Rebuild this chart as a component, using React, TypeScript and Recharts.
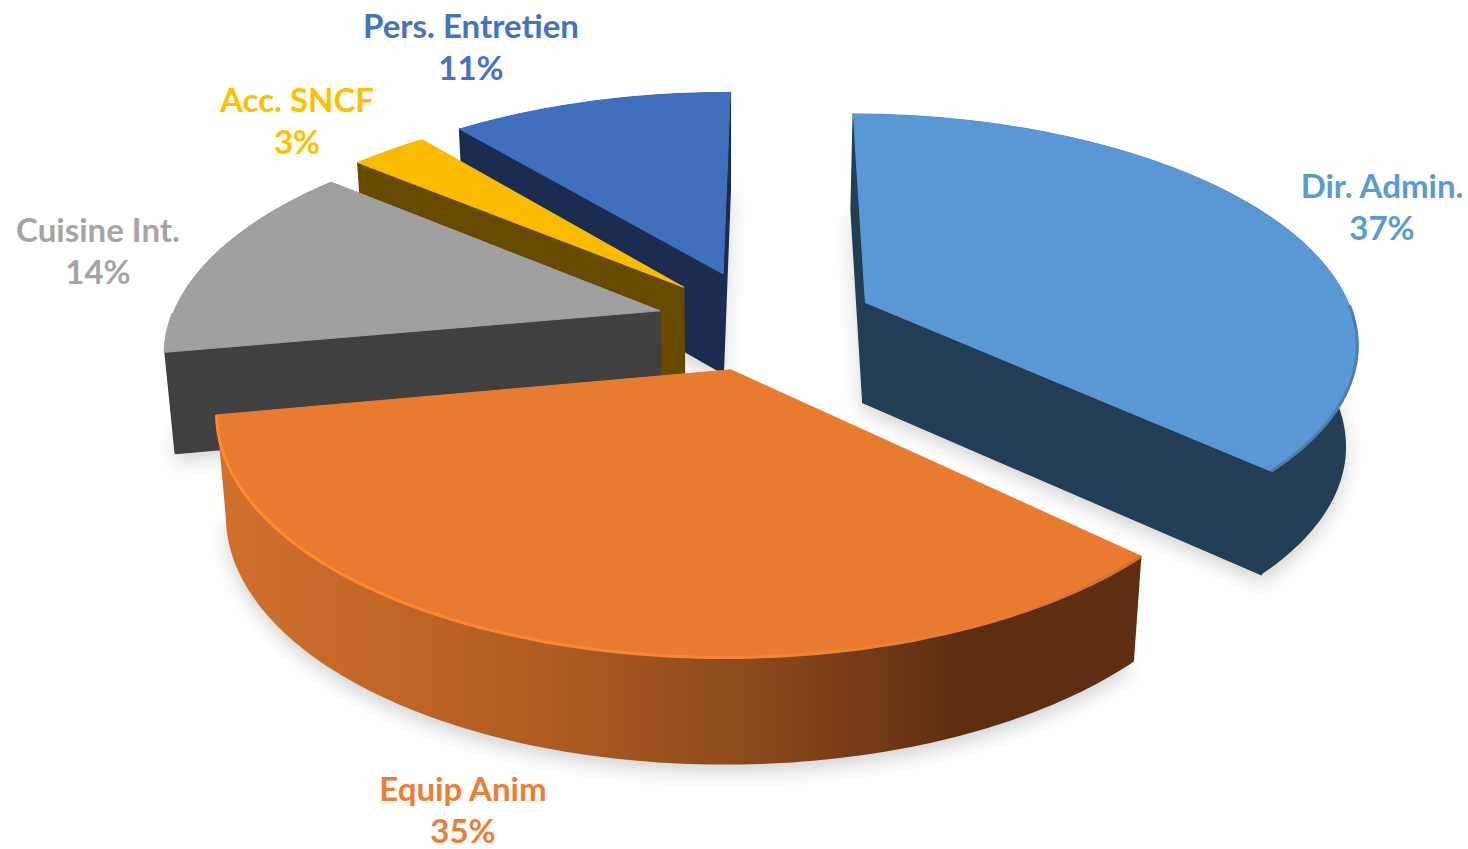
import React from 'react';
import { PieChart, Pie } from 'recharts';

// listed counter-clockwise from the top so the front slices paint last
const categories = ['Pers. Entretien', 'Acc. SNCF', 'Cuisine Int.', 'Equip Anim', 'Dir. Admin.'];
const shares = [11, 3, 14, 35, 37];
const explode = [0.24, 0.23, 0.215, 0.21, 0.235];

const topColors = ['#406FBE', '#FBBC00', '#A0A0A0', '#E97B30', '#5997D5'];
const faceColors = ['#1A2C50', '#654A00', '#404040', '#5F2E11', '#233D55'];
const wallColors = ['#1A2C50', '#654A00', '#404040', 'url(#orangeWall)', '#243E55'];
const rimColors = ['#406FBE', '#FBBC00', '#A0A0A0', 'url(#orangeRim)', '#4A7FAC'];
const labelColors = ['#4472C4', '#FFC000', '#A5A5A5', '#ED7D31', '#5B9BD5'];
const percentLabels = ['11%', '3%', '14%', '35%', '37%'];
const labelAnchors = [
  [471, 38],
  [297, 112],
  [98, 242],
  [463, 801],
  [1382, 198],
];

const data = categories.map((name, i) => ({ name, value: shares[i] }));

const CX = 761;
const CY = 323;
const RADIUS = 490;
const TILT = 0.459;
const PERSPECTIVE = 0.16;
const VANISH_X = 730;
const SHRINK = 0.018;

type Pt = [number, number];

const project = (u: number, v: number, cx: number, cy: number, r: number): Pt => {
  const s = 1 / (1 - PERSPECTIVE * v);
  return [cx + r * u * s, cy + r * TILT * v * s];
};
// wall height grows a little towards the viewer
const lower = (p: Pt): Pt => [p[0] + (VANISH_X - p[0]) * SHRINK, p[1] + 100 + (p[1] - 300) * 0.02];
const toLine = (pts: Pt[]) =>
  'M' + pts.map((p) => `${p[0].toFixed(1)},${p[1].toFixed(1)}`).join('L');
const toPath = (pts: Pt[]) => toLine(pts) + 'Z';
const cross = (a: Pt, b: Pt) => a[0] * b[1] - a[1] * b[0];
const sub = (a: Pt, b: Pt): Pt => [a[0] - b[0], a[1] - b[1]];

const sliceGeometry = (props: any) => {
  const { cx, cy, outerRadius, startAngle, endAngle } = props;
  const idx = categories.indexOf(props.payload?.name ?? props.name);
  const mid = ((startAngle + endAngle) / 2) * (Math.PI / 180);
  const ou = explode[idx] * Math.cos(mid);
  const ov = -explode[idx] * Math.sin(mid);
  const apex = project(ou, ov, cx, cy, outerRadius);
  const rim: Pt[] = [];
  const front: Pt[] = [];
  const steps = Math.max(2, Math.ceil(Math.abs(endAngle - startAngle)));
  for (let i = 0; i <= steps; i++) {
    const a = ((startAngle + ((endAngle - startAngle) * i) / steps) * Math.PI) / 180;
    const p = project(ou + Math.cos(a), ov - Math.sin(a), cx, cy, outerRadius);
    rim.push(p);
    if (Math.sin(a) < 0) front.push(p);
  }
  return { idx, apex, rim, front };
};

const Slice3D = (props: any) => {
  const { idx, apex, rim, front } = sliceGeometry(props);
  const middle = rim[Math.floor(rim.length / 2)];
  const faces = [rim[0], rim[rim.length - 1]].filter((p) => {
    const edge = sub(p, apex);
    return cross(edge, sub(lower(p), p)) * cross(edge, sub(middle, apex)) < 0;
  });
  const wall = [...rim, ...rim.map(lower).reverse()];
  return (
    <g strokeLinejoin="round">
      {faces.map((p, i) => (
        <path
          key={i}
          d={toPath([apex, p, lower(p), lower(apex)])}
          fill={faceColors[idx]}
          stroke={faceColors[idx]}
          strokeWidth={1.5}
        />
      ))}
      <path d={toPath(wall)} fill={wallColors[idx]} />
      <path d={toPath([apex, ...rim])} fill={topColors[idx]} stroke={topColors[idx]} strokeWidth={1} />
      {front.length > 1 && (
        <path d={toLine(front)} fill="none" stroke={rimColors[idx]} strokeWidth={3} />
      )}
    </g>
  );
};

const SliceShadow = (props: any) => {
  const { apex, rim } = sliceGeometry(props);
  const pts = [apex, ...rim].map(lower).map((p): Pt => [p[0], p[1] + 8]);
  return <path d={toPath(pts)} fill="#000" fillOpacity={0.17} filter="url(#softShadow)" />;
};

const renderLabel = (props: any) => {
  const idx = categories.indexOf(props.payload?.name ?? props.name);
  const [x, y] = labelAnchors[idx];
  return (
    <text
      key={categories[idx]}
      textAnchor="middle"
      fill={labelColors[idx]}
      fontFamily="Lato, sans-serif"
      fontWeight={700}
      fontSize={33}
    >
      <tspan x={x} y={y}>
        {categories[idx]}
      </tspan>
      <tspan x={x} y={y + 41.5}>
        {percentLabels[idx]}
      </tspan>
    </text>
  );
};

export default function App() {
  return (
    <div style={{ position: 'absolute', left: 0, top: 0, width: 1468, height: 849 }}>
      <PieChart width={1468} height={849} margin={{ top: 0, right: 0, bottom: 0, left: 0 }}>
        <defs>
          <linearGradient id="orangeWall" gradientUnits="userSpaceOnUse" x1={225} y1={0} x2={1140} y2={0}>
            <stop offset="0%" stopColor="#D0702C" />
            <stop offset="35%" stopColor="#B05C22" />
            <stop offset="60%" stopColor="#87471A" />
            <stop offset="80%" stopColor="#5F2E11" />
            <stop offset="100%" stopColor="#5F2E11" />
          </linearGradient>
          <linearGradient id="orangeRim" gradientUnits="userSpaceOnUse" x1={225} y1={0} x2={1140} y2={0}>
            <stop offset="0%" stopColor="#FF8A30" />
            <stop offset="55%" stopColor="#F98434" />
            <stop offset="85%" stopColor="#E97B30" />
            <stop offset="100%" stopColor="#D07030" />
          </linearGradient>
          <filter id="softShadow" x="-10%" y="-10%" width="120%" height="120%">
            <feGaussianBlur stdDeviation="9" />
          </filter>
        </defs>
        <Pie
          data={data}
          dataKey="value"
          cx={CX}
          cy={CY}
          outerRadius={RADIUS}
          startAngle={89.7}
          endAngle={449.7}
          paddingAngle={0}
          stroke="none"
          shape={SliceShadow}
          isAnimationActive={false}
        />
        <Pie
          data={data}
          dataKey="value"
          cx={CX}
          cy={CY}
          outerRadius={RADIUS}
          startAngle={89.7}
          endAngle={449.7}
          paddingAngle={0}
          stroke="none"
          shape={Slice3D}
          label={renderLabel}
          labelLine={false}
          isAnimationActive={false}
        />
      </PieChart>
    </div>
  );
}
